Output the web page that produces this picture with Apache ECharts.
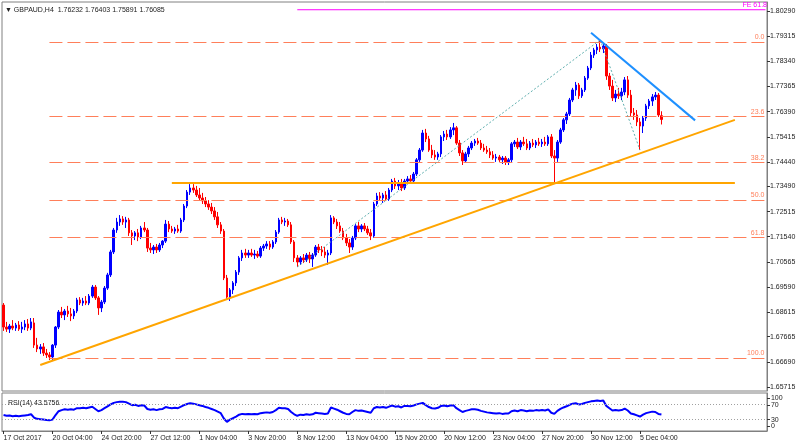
<!DOCTYPE html>
<html><head><meta charset="utf-8">
<script src="https://cdn.jsdelivr.net/npm/echarts@6/dist/echarts.min.js"></script>
<style>html,body{margin:0;padding:0;background:#fff}#c{width:800px;height:447px}</style>
</head><body><div id="c"></div>
<script>
// ---- data ----
const symbolName = 'GBPAUD,H4';
const xTickLabels = ['17 Oct 2017','20 Oct 04:00','24 Oct 20:00','27 Oct 12:00','1 Nov 04:00','3 Nov 20:00','8 Nov 12:00','13 Nov 04:00','15 Nov 20:00','20 Nov 12:00','23 Nov 04:00','27 Nov 20:00','30 Nov 12:00','5 Dec 04:00'];
const yTickLabels = ['1.80290','1.79315','1.78340','1.77365','1.76390','1.75415','1.74440','1.73490','1.72515','1.71540','1.70565','1.69590','1.68615','1.67665','1.66690','1.65715'];
const rsiTickLabels = ['100','70','30','0'];

const opens = [
1.6889,1.6804,1.6796,1.6808,1.6800,1.6812,1.6796,1.6804,1.6816,1.6800,
1.6820,1.6734,1.6719,1.6727,1.6703,1.6696,1.6688,1.6734,1.6804,1.6862,
1.6851,1.6866,1.6855,1.6847,1.6866,1.6909,1.6897,1.6905,1.6897,1.6924,
1.6959,1.6917,1.6878,1.6901,1.6955,1.7006,1.7095,1.7180,1.7211,1.7223,
1.7211,1.7219,1.7169,1.7157,1.7169,1.7153,1.7188,1.7180,1.7110,1.7103,
1.7114,1.7103,1.7122,1.7137,1.7203,1.7184,1.7176,1.7184,1.7176,1.7219,
1.7273,1.7327,1.7343,1.7335,1.7316,1.7304,1.7293,1.7281,1.7269,1.7254,
1.7231,1.7200,1.7176,1.6994,1.6920,1.6948,1.6975,1.7017,1.7072,1.7091,
1.7083,1.7091,1.7083,1.7087,1.7079,1.7110,1.7118,1.7126,1.7114,1.7134,
1.7172,1.7219,1.7211,1.7215,1.7200,1.7134,1.7072,1.7056,1.7072,1.7064,
1.7083,1.7068,1.7083,1.7114,1.7103,1.7095,1.7083,1.7091,1.7227,1.7211,
1.7196,1.7176,1.7149,1.7130,1.7114,1.7149,1.7196,1.7184,1.7196,1.7184,
1.7169,1.7157,1.7281,1.7312,1.7304,1.7316,1.7300,1.7335,1.7370,1.7351,
1.7362,1.7343,1.7370,1.7378,1.7370,1.7397,1.7452,1.7490,1.7556,1.7533,
1.7490,1.7471,1.7463,1.7475,1.7541,1.7552,1.7541,1.7568,1.7576,1.7517,
1.7479,1.7448,1.7475,1.7498,1.7517,1.7525,1.7517,1.7498,1.7490,1.7483,
1.7471,1.7459,1.7463,1.7452,1.7459,1.7444,1.7452,1.7514,1.7521,1.7502,
1.7521,1.7514,1.7498,1.7517,1.7510,1.7521,1.7514,1.7521,1.7514,1.7541,
1.7467,1.7459,1.7521,1.7568,1.7607,1.7630,1.7684,1.7723,1.7742,1.7700,
1.7723,1.7769,1.7808,1.7858,1.7878,1.7889,1.7882,1.7893,1.7777,1.7738,
1.7692,1.7707,1.7700,1.7715,1.7762,1.7703,1.7634,1.7626,1.7599,1.7583,
1.7614,1.7661,1.7680,1.7696,1.7703,1.76232];
const closes = [
1.6804,1.6796,1.6808,1.6800,1.6812,1.6796,1.6804,1.6816,1.6800,1.6824,
1.6734,1.6719,1.6727,1.6703,1.6696,1.6688,1.6734,1.6804,1.6862,1.6851,
1.6866,1.6855,1.6847,1.6866,1.6909,1.6897,1.6905,1.6897,1.6924,1.6959,
1.6917,1.6878,1.6901,1.6955,1.7006,1.7095,1.7180,1.7211,1.7223,1.7211,
1.7219,1.7169,1.7157,1.7169,1.7153,1.7188,1.7180,1.7110,1.7103,1.7114,
1.7103,1.7122,1.7137,1.7203,1.7184,1.7176,1.7184,1.7176,1.7219,1.7273,
1.7327,1.7343,1.7335,1.7316,1.7304,1.7293,1.7281,1.7269,1.7254,1.7231,
1.7200,1.7176,1.6994,1.6920,1.6948,1.6975,1.7017,1.7072,1.7091,1.7083,
1.7091,1.7083,1.7087,1.7079,1.7110,1.7118,1.7126,1.7114,1.7134,1.7172,
1.7219,1.7211,1.7215,1.7200,1.7134,1.7072,1.7056,1.7072,1.7064,1.7083,
1.7068,1.7083,1.7114,1.7103,1.7095,1.7083,1.7091,1.7227,1.7211,1.7196,
1.7176,1.7149,1.7130,1.7114,1.7149,1.7196,1.7184,1.7196,1.7184,1.7169,
1.7157,1.7281,1.7312,1.7304,1.7316,1.7300,1.7335,1.7370,1.7351,1.7362,
1.7343,1.7370,1.7378,1.7370,1.7397,1.7452,1.7490,1.7556,1.7533,1.7490,
1.7471,1.7463,1.7475,1.7541,1.7552,1.7541,1.7568,1.7576,1.7517,1.7479,
1.7448,1.7475,1.7498,1.7517,1.7525,1.7517,1.7498,1.7490,1.7483,1.7471,
1.7459,1.7463,1.7452,1.7459,1.7444,1.7452,1.7514,1.7521,1.7502,1.7521,
1.7514,1.7498,1.7517,1.7510,1.7521,1.7514,1.7521,1.7514,1.7541,1.7467,
1.7459,1.7521,1.7568,1.7607,1.7630,1.7684,1.7723,1.7742,1.7700,1.7723,
1.7769,1.7808,1.7858,1.7878,1.7889,1.7882,1.7893,1.7777,1.7738,1.7692,
1.7707,1.7700,1.7715,1.7762,1.7703,1.7634,1.7626,1.7599,1.7583,1.7614,
1.7661,1.7680,1.7696,1.7703,1.7626,1.76085];
const highs = [
1.6897,1.6824,1.6816,1.6831,1.6820,1.6827,1.6824,1.6831,1.6835,1.6839,
1.6839,1.6762,1.6738,1.6742,1.6719,1.6707,1.6738,1.6808,1.6870,1.6882,
1.6874,1.6886,1.6878,1.6874,1.6917,1.6920,1.6917,1.6924,1.6932,1.6967,
1.6967,1.6924,1.6909,1.6963,1.7014,1.7103,1.7188,1.7227,1.7238,1.7234,
1.7231,1.7227,1.7180,1.7176,1.7184,1.7196,1.7211,1.7188,1.7130,1.7122,
1.7126,1.7130,1.7141,1.7219,1.7215,1.7196,1.7192,1.7200,1.7227,1.7281,
1.7335,1.7358,1.7358,1.7351,1.7343,1.7324,1.7308,1.7296,1.7285,1.7269,
1.7250,1.7211,1.7184,1.7006,1.6955,1.6982,1.7025,1.7079,1.7103,1.7107,
1.7103,1.7107,1.7103,1.7099,1.7118,1.7126,1.7137,1.7137,1.7141,1.7180,
1.7227,1.7231,1.7227,1.7223,1.7211,1.7141,1.7083,1.7079,1.7087,1.7091,
1.7095,1.7091,1.7122,1.7126,1.7118,1.7114,1.7103,1.7238,1.7234,1.7223,
1.7211,1.7188,1.7165,1.7145,1.7157,1.7203,1.7211,1.7203,1.7207,1.7196,
1.7184,1.7289,1.7324,1.7327,1.7324,1.7331,1.7343,1.7378,1.7382,1.7374,
1.7378,1.7378,1.7389,1.7393,1.7405,1.7459,1.7498,1.7568,1.7572,1.7545,
1.7510,1.7490,1.7483,1.7548,1.7564,1.7568,1.7579,1.7595,1.7583,1.7529,
1.7490,1.7483,1.7506,1.7525,1.7533,1.7537,1.7529,1.7514,1.7506,1.7498,
1.7486,1.7475,1.7471,1.7467,1.7467,1.7459,1.7521,1.7529,1.7537,1.7529,
1.7541,1.7533,1.7525,1.7533,1.7529,1.7537,1.7533,1.7541,1.7548,1.7552,
1.7490,1.7529,1.7576,1.7614,1.7638,1.7692,1.7731,1.7754,1.7750,1.7731,
1.7777,1.7816,1.7870,1.7886,1.7901,1.7917,1.7901,1.7901,1.7789,1.7762,
1.7723,1.7731,1.7731,1.7773,1.7777,1.7723,1.7653,1.7645,1.7614,1.7622,
1.7669,1.7688,1.7707,1.7715,1.7711,1.76403];
const lows = [
1.6789,1.6785,1.6781,1.6792,1.6789,1.6789,1.6781,1.6792,1.6789,1.6792,
1.6723,1.6707,1.6700,1.6692,1.6684,1.6676,1.6672,1.6723,1.6796,1.6839,
1.6831,1.6843,1.6827,1.6835,1.6858,1.6889,1.6886,1.6889,1.6889,1.6917,
1.6909,1.6851,1.6862,1.6893,1.6948,1.6998,1.7087,1.7169,1.7196,1.7200,
1.7188,1.7157,1.7122,1.7141,1.7137,1.7145,1.7172,1.7095,1.7091,1.7087,
1.7091,1.7095,1.7110,1.7130,1.7172,1.7169,1.7165,1.7169,1.7169,1.7211,
1.7265,1.7316,1.7324,1.7308,1.7293,1.7281,1.7269,1.7258,1.7242,1.7219,
1.7188,1.7165,1.6986,1.6909,1.6905,1.6932,1.6963,1.7006,1.7060,1.7072,
1.7072,1.7076,1.7068,1.7072,1.7072,1.7099,1.7107,1.7103,1.7107,1.7126,
1.7165,1.7203,1.7196,1.7192,1.7126,1.7056,1.7037,1.7045,1.7052,1.7056,
1.7052,1.7037,1.7076,1.7091,1.7079,1.7072,1.7045,1.7083,1.7203,1.7184,
1.7169,1.7141,1.7118,1.7091,1.7103,1.7141,1.7172,1.7172,1.7176,1.7161,
1.7141,1.7149,1.7273,1.7293,1.7285,1.7293,1.7293,1.7327,1.7339,1.7335,
1.7331,1.7335,1.7358,1.7362,1.7362,1.7389,1.7444,1.7483,1.7521,1.7483,
1.7459,1.7452,1.7452,1.7463,1.7525,1.7529,1.7533,1.7548,1.7510,1.7467,
1.7432,1.7440,1.7463,1.7490,1.7506,1.7510,1.7490,1.7483,1.7475,1.7459,
1.7452,1.7444,1.7444,1.7436,1.7432,1.7432,1.7440,1.7502,1.7494,1.7490,
1.7506,1.7490,1.7490,1.7502,1.7498,1.7506,1.7502,1.7506,1.7506,1.7459,
1.7362,1.7444,1.7514,1.7560,1.7591,1.7622,1.7676,1.7700,1.7688,1.7692,
1.7715,1.7762,1.7800,1.7847,1.7862,1.7870,1.7866,1.7762,1.7723,1.7680,
1.7676,1.7688,1.7684,1.7703,1.7692,1.7622,1.7607,1.7583,1.7490,1.7556,
1.7603,1.7649,1.7661,1.7684,1.7618,1.75891];
const rsi = [
42,40,41,39,40,39,40,41,42,44,
35,32,31,30,29,28,30,42,52,55,
57,56,57,56,60,60,61,60,62,64,
58,52,55,60,65,70,74,76,77,77,
76,72,68,69,66,68,67,58,56,57,
55,57,58,63,61,60,61,60,64,68,
71,73,72,70,68,66,63,61,58,55,
51,47,33,24,30,34,38,43,45,44,
45,44,45,44,47,48,49,48,50,55,
61,60,60,58,50,44,40,43,42,44,
43,44,48,47,46,45,46,62,59,56,
52,48,45,44,50,55,53,54,52,50,
48,60,63,62,63,61,64,67,64,65,
62,66,66,65,67,70,72,74,68,63,
60,59,61,66,67,65,67,68,60,55,
50,53,55,57,57,56,53,51,49,48,
47,46,47,45,46,46,52,54,52,55,
54,52,54,53,55,54,55,54,57,48,
45,53,58,62,65,69,72,73,70,71,
74,76,78,79,80,79,80,66,60,54,
55,54,55,59,54,46,44,41,38,43,
47,49,51,50,45,43.5756];

// drawn objects (bar index, price)
const fibStartIdx = 15;
const fibHigh = 1.7909;
const fibLow = 1.6684;
const fibLevels = [0, 23.6, 38.2, 50, 61.8, 100];
const feIdx = [96, 195, 208];
const fePrice = [1.7037, 1.7917, 1.7490];
const feRatio = 61.8;
const supportIdx = [12, 239];
const supportPrice = [1.6657, 1.7607];
const resistIdx = [192, 226];
const resistPrice = [1.7945, 1.7605];
const levelIdx = [55, 239];
const levelPrice = [1.7362, 1.7362];
const rsiBands = [70, 30];

// ---- chart ----
const N = 250;
const lastIdx = closes.length - 1;
const cats = Array.from({length: N}, (_, i) => String(i));
const candles = opens.map((o, i) => [o, closes[i], lows[i], highs[i]]);
const fibPrice = l => fibHigh - (fibHigh - fibLow) * l / 100;
const fePriceLevel = fePrice[2] + feRatio / 100 * (fePrice[1] - fePrice[0]);
const font = 'Liberation Sans';
const salmon = '#FF7F5A';
const magenta = '#FF00FF';
const yVals = yTickLabels.map(Number);
const rsiLabelPos = {'100': 86, '70': 68, '30': 30, '0': 13};
const rsiVals = rsiTickLabels.map(t => rsiLabelPos[t]);
const showTick = i => i % 16 === 0 && i / 16 < xTickLabels.length;

const chart = echarts.init(document.getElementById('c'), null, {renderer: 'canvas'});
const seg = (idx, pr) => idx.map((x, k) => [x, pr[k]]);
const plainLine = (data, color, width, type, extra) => Object.assign({
  type: 'line', data, xAxisIndex: 0, yAxisIndex: 0, symbol: 'none', silent: true,
  lineStyle: {color, width, type}, itemStyle: {color}, z: 5
}, extra || {});
const textPoint = (coord, text, color, position, distance, offset) => ({
  coord, symbol: 'rect', symbolSize: 1, itemStyle: {color: 'rgba(0,0,0,0)'},
  label: {show: true, position, distance, offset: offset || [0, 0], formatter: text, color, fontSize: 7, fontFamily: font}
});

const mainMarks = fibLevels.map(l => [
  {coord: [fibStartIdx, fibPrice(l)], lineStyle: {color: salmon, width: 1, type: [13, 5]},
   label: {show: true, position: 'insideEndTop', formatter: l.toFixed(1), color: salmon, fontSize: 7, fontFamily: font, distance: [1, 1]}},
  {coord: [N - 1, fibPrice(l)]}
]);
mainMarks.push({yAxis: closes[lastIdx], lineStyle: {opacity: 0},
  label: {show: true, position: 'end', formatter: closes[lastIdx].toFixed(5), color: '#fff', backgroundColor: '#000',
    padding: [1, 2], fontSize: 7, fontFamily: font, distance: 0}});

chart.setOption({
  animation: false,
  backgroundColor: '#fff',
  title: [
    {text: '\u25BC ' + symbolName + '  ' + [opens[lastIdx], highs[lastIdx], lows[lastIdx], closes[lastIdx]].map(v => v.toFixed(5)).join(' '),
     left: 0, top: 2, textStyle: {fontSize: 7, fontWeight: 'normal', color: '#222', fontFamily: font}},
    {text: 'RSI(14) ' + rsi[lastIdx].toFixed(4), left: 3, top: 395,
     textStyle: {fontSize: 7, fontWeight: 'normal', color: '#222', fontFamily: font}}
  ],
  grid: [
    {left: 2, right: 33, top: 2, height: 389, show: true, borderColor: '#808080', borderWidth: 1, backgroundColor: '#fff'},
    {left: 2, right: 33, top: 393, height: 38, show: true, borderColor: '#808080', borderWidth: 1}
  ],
  xAxis: [
    {type: 'category', data: cats, gridIndex: 0, boundaryGap: true,
     axisLine: {show: false}, axisTick: {show: false}, axisLabel: {show: false}, splitLine: {show: false}},
    {type: 'category', data: cats, gridIndex: 1, boundaryGap: true,
     axisLine: {show: true, lineStyle: {color: '#808080'}},
     axisTick: {show: true, interval: (i) => showTick(i), length: 3, alignWithLabel: true, lineStyle: {color: '#333'}},
     axisLabel: {show: true, interval: (i) => showTick(i), align: 'left', margin: 4, fontSize: 7, color: '#222', fontFamily: font,
       formatter: (v, i) => xTickLabels[i / 16] || ''},
     splitLine: {show: false}}
  ],
  yAxis: [
    {type: 'value', gridIndex: 0, position: 'right', min: 1.655608, max: 1.806385,
     splitLine: {show: false},
     axisLine: {show: true, lineStyle: {color: '#808080'}},
     axisTick: {show: true, length: 3, customValues: yVals, lineStyle: {color: '#333'}},
     axisLabel: {show: true, customValues: yVals, fontSize: 7, color: '#222', fontFamily: font, margin: 3,
       formatter: v => v.toFixed(5)}},
    {type: 'value', gridIndex: 1, position: 'right', min: 0, max: 100, splitLine: {show: false},
     axisLine: {show: true, lineStyle: {color: '#808080'}},
     axisTick: {show: true, length: 3, customValues: rsiVals, lineStyle: {color: '#333'}},
     axisLabel: {show: false}}
  ],
  series: [
    {type: 'candlestick', xAxisIndex: 0, yAxisIndex: 0, data: candles, barWidth: 2, z: 3,
     itemStyle: {color: '#0000FF', color0: '#FF0000', borderColor: '#0000FF', borderColor0: '#FF0000', borderWidth: 1},
     markLine: {symbol: ['none', 'none'], silent: true, animation: false, data: mainMarks}},
    plainLine([[feIdx[0], fePriceLevel], [N - 1, fePriceLevel]], magenta, 1, 'solid', {
      markPoint: {silent: true, animation: false,
        data: [textPoint([N - 1, fePriceLevel], 'FE ' + feRatio.toFixed(1), magenta, 'insideRight', 0, [1, -5])]}}),
    plainLine(seg(feIdx.slice(0, 2), fePrice.slice(0, 2)), '#5FAFAF', 1, [2, 2]),
    plainLine(seg(feIdx.slice(1, 3), fePrice.slice(1, 3)), '#5FAFAF', 1, [2, 2]),
    plainLine(seg(supportIdx, supportPrice), '#FFA500', 2, 'solid'),
    plainLine(seg(levelIdx, levelPrice), '#FFA500', 2, 'solid'),
    plainLine(seg(resistIdx, resistPrice), '#1E90FF', 2, 'solid'),
    {type: 'line', xAxisIndex: 1, yAxisIndex: 1, data: rsi, symbol: 'none', silent: true,
     lineStyle: {color: '#0000FF', width: 2},
     markLine: {symbol: ['none', 'none'], silent: true, animation: false, label: {show: false},
       lineStyle: {color: '#A0A0A0', width: 1, type: [1, 2]},
       data: rsiBands.map(b => ({yAxis: b}))},
     markPoint: {silent: true, animation: false,
       data: rsiTickLabels.map(t => textPoint([N - 1, rsiLabelPos[t]], t, '#222', 'right', 5))}}
  ]
});
</script></body></html>
